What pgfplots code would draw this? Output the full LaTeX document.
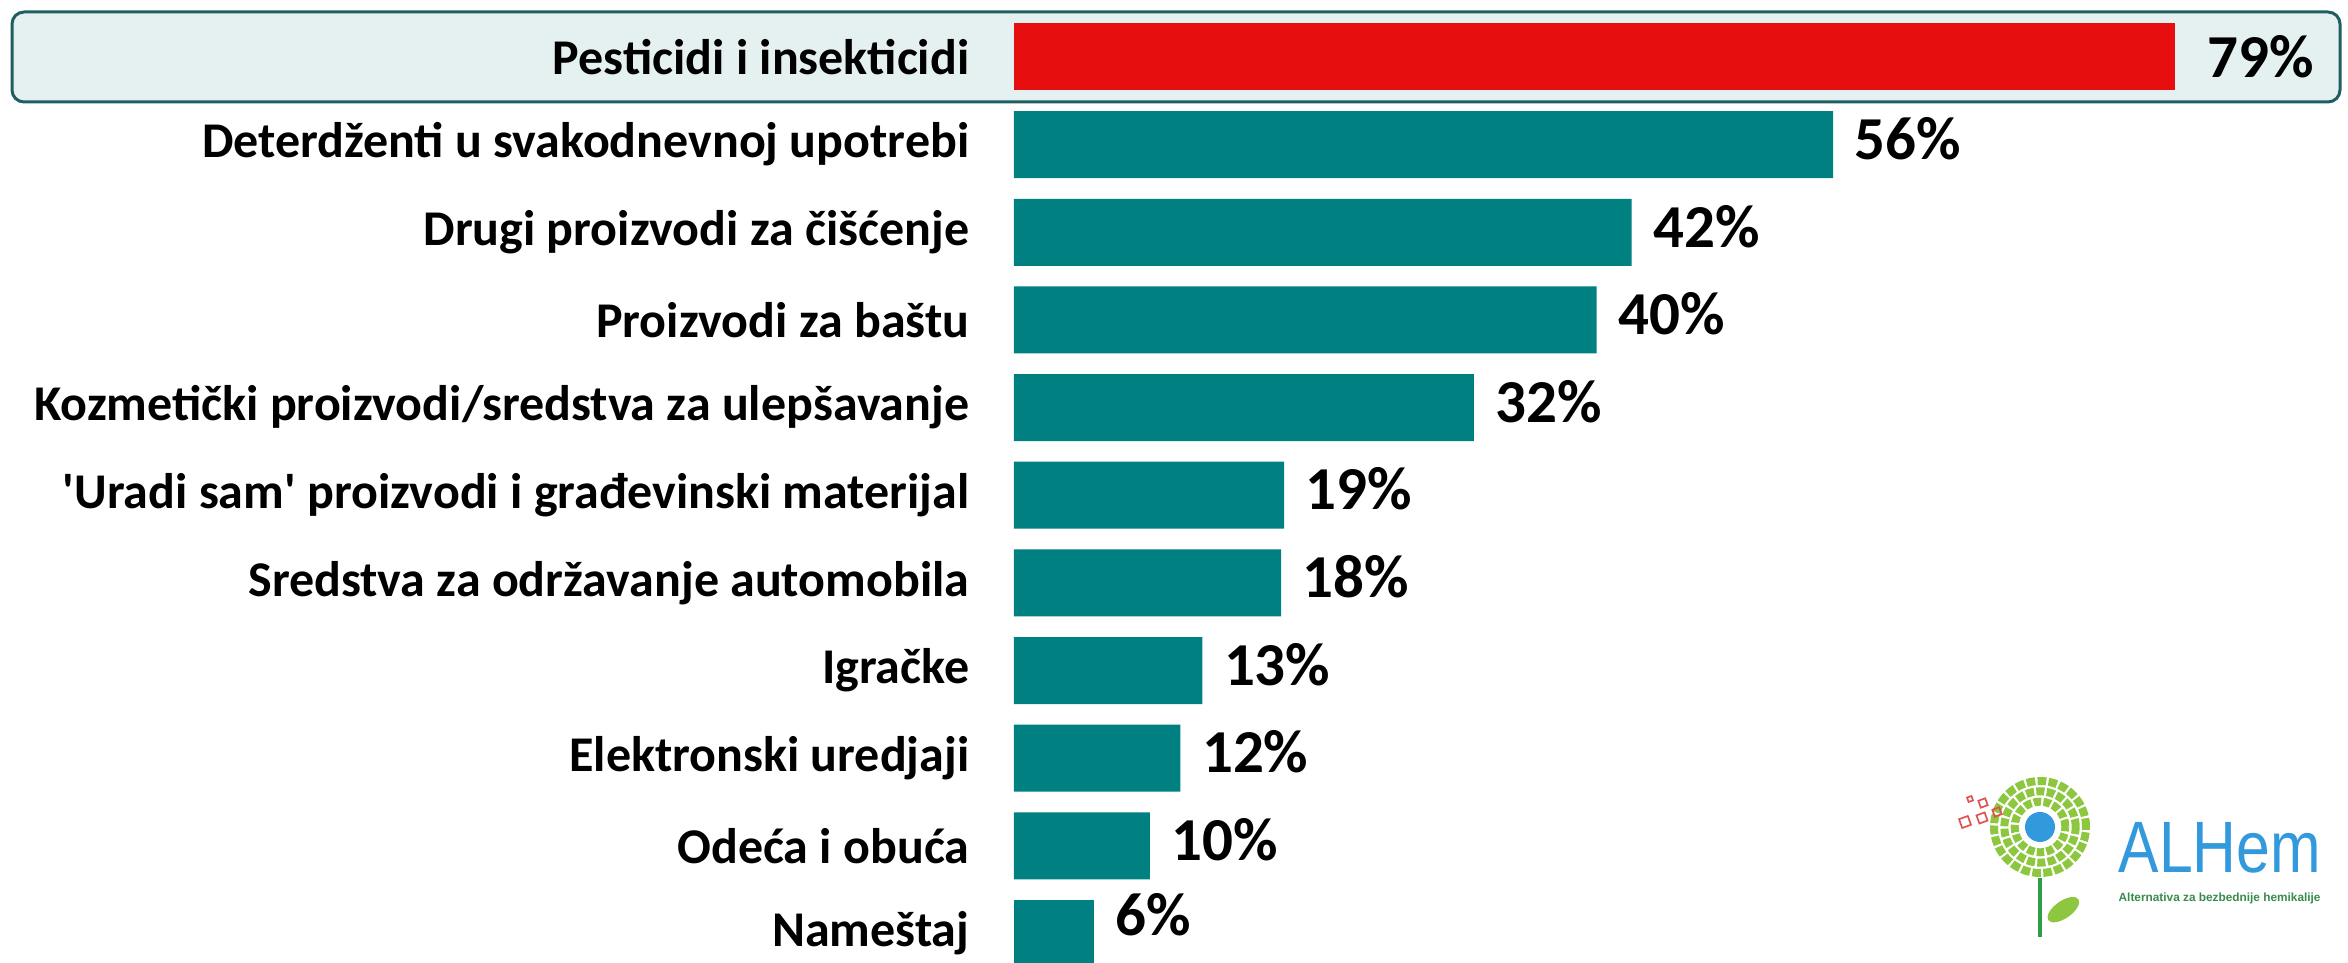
\documentclass[border=0pt]{standalone}
\usepackage{pgfplots}
\pgfplotsset{compat=1.18}
\usepackage{fontspec}
\setmainfont{Carlito}
\newfontfamily\logofont{Liberation Sans}
\definecolor{barteal}{HTML}{008080}
\definecolor{barred}{HTML}{E60E0E}
\definecolor{hlfill}{HTML}{E5F0F0}
\definecolor{hlborder}{HTML}{1F5F63}
\definecolor{logoblue}{HTML}{3399DD}
\definecolor{logogreen}{HTML}{8DC63F}
\definecolor{stemgreen}{HTML}{2E9E48}
\definecolor{subgreen}{HTML}{3A8A4A}
\definecolor{logored}{HTML}{E05050}
\begin{document}
\begin{tikzpicture}[x=1pt,y=1pt]
\filldraw[fill=hlfill, draw=hlborder, line width=0.9pt, rounded corners=3.6pt] (3.6,258.3) rectangle (702,285.3);
\begin{axis}[
  at={(304.2pt,0pt)}, anchor=south west,
  scale only axis, width=394.2pt, height=288.9pt,
  xbar, bar width=20.1pt, bar shift=0pt,
  xmin=0, xmax=90,
  ymin=-0.650, ymax=10.337, y dir=reverse,
  axis line style={draw=none},
  hide x axis,
  ytick={0,1,2,3,4,5,6,7,8,9,10},
  yticklabels={{Pesticidi i insekticidi},{Deterdženti u svakodnevnoj upotrebi},{Drugi proizvodi za čišćenje},{Proizvodi za baštu},{Kozmetički proizvodi/sredstva za ulepšavanje},{\textquotesingle Uradi sam\textquotesingle\ proizvodi i građevinski materijal},{Sredstva za održavanje automobila},{Igračke},{Elektronski uredjaji},{Odeća i obuća},{Nameštaj}},
  major tick length=0pt,
  yticklabel style={font=\bfseries\fontsize{15}{16}\selectfont, inner sep=0pt, xshift=-13.2pt},
  point meta=explicit,
  /pgf/number format/assume math mode=true,
  nodes near coords={\pgfmathprintnumber[assume math mode=true]{\pgfplotspointmeta}\%},
  nodes near coords style={font=\bfseries\fontsize{18.3}{20}\selectfont, anchor=west, inner sep=0pt, xshift=6.3pt, yshift=1.8pt},
]
\addplot[fill=barred, draw=none, nodes near coords style={xshift=3.3pt, yshift=-1.8pt}] coordinates {(79.5,0) [79]};
\addplot[fill=barteal, draw=none] coordinates {(56.1,1) [56] (42.3,2) [42] (39.9,3) [40] (31.5,4) [32] (18.5,5) [19] (18.3,6) [18] (12.9,7) [13] (11.4,8) [12] (9.3,9) [10]};
\addplot[fill=barteal, draw=none, nodes near coords style={yshift=3.7pt}] coordinates {(5.5,10) [6]};
\end{axis}
% logo
\draw[stemgreen, line width=1.2pt] (612,25.5) -- (612,7.8);
\fill[logogreen, rotate around={35:(619,16)}] (619,16) ellipse (5.5 and 2.6);
\fill[logoblue] (612,40.8) circle (4.5);
\draw[logogreen, line width=2.4pt, dash pattern=on 2.2pt off 0.7pt] (612,40.8) circle (7.6);
\draw[logogreen, line width=2.4pt, dash pattern=on 2.4pt off 0.7pt] (612,40.8) circle (10.7);
\draw[logogreen, line width=2.4pt, dash pattern=on 2.6pt off 0.7pt] (612,40.8) circle (13.8);
\foreach \px/\py/\s in {591/49.2/0.7, 594.9/48/1.1, 599.1/45.3/1.1, 589.5/42.3/1.4, 594.6/43.5/1.3}{
  \draw[logored, line width=0.5pt, rotate around={20:(\px,\py)}] (\px-\s,\py-\s) rectangle (\px+\s,\py+\s);
}
\node[anchor=base west, inner sep=0pt, text=logoblue] at (635.4,27) {\scalebox{1}[1.2]{\logofont\fontsize{18.2}{20}\selectfont ALHem}};
\node[anchor=base west, inner sep=0pt, text=subgreen] at (635.4,18.3) {\logofont\bfseries\fontsize{3.55}{4.5}\selectfont Alternativa za bezbednije hemikalije};
\pgfresetboundingbox
\path (0,0) rectangle (704.4,288.9);
\end{tikzpicture}
\end{document}
